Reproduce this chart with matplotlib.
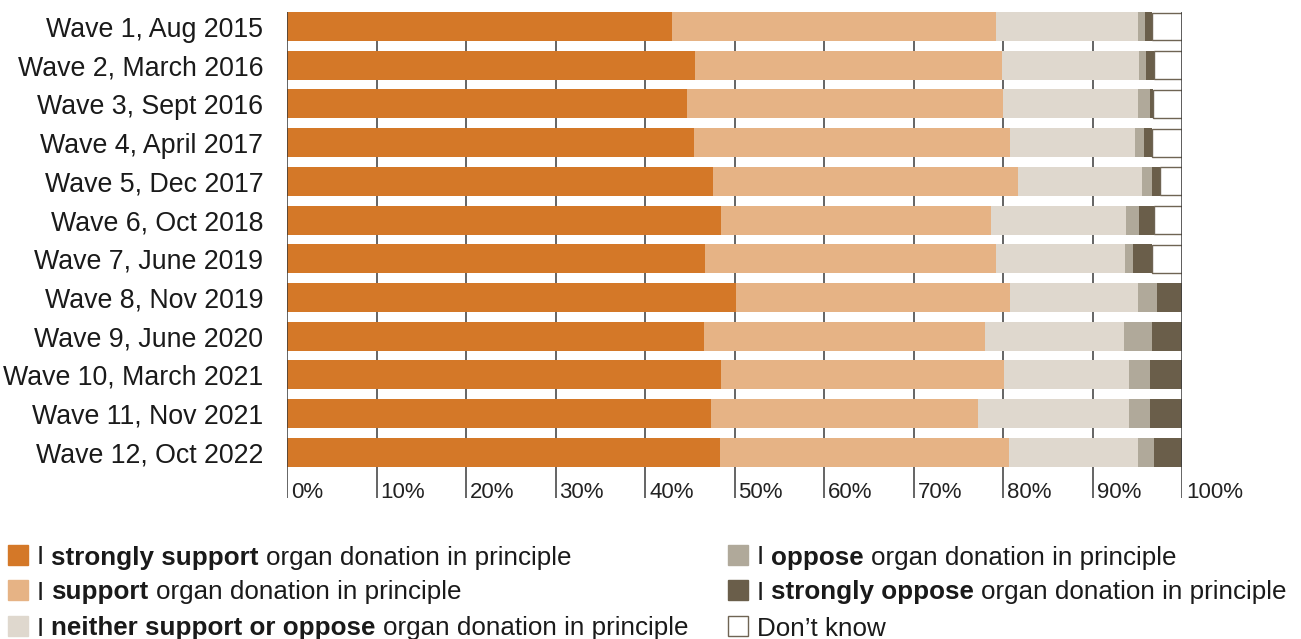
import matplotlib
matplotlib.use('Agg')
import matplotlib.pyplot as plt
import matplotlib.transforms as mtrans
from matplotlib.patches import Rectangle

plt.rcParams['font.family'] = ['Liberation Sans', 'DejaVu Sans']

waves = ['Wave 1, Aug 2015', 'Wave 2, March 2016', 'Wave 3, Sept 2016',
         'Wave 4, April 2017', 'Wave 5, Dec 2017', 'Wave 6, Oct 2018',
         'Wave 7, June 2019', 'Wave 8, Nov 2019', 'Wave 9, June 2020',
         'Wave 10, March 2021', 'Wave 11, Nov 2021', 'Wave 12, Oct 2022']

strongly_support = [43.0, 45.6, 44.7, 45.5, 47.6, 48.5, 46.7, 50.2, 46.6, 48.5, 47.4, 48.4]
support = [36.2, 34.3, 35.3, 35.3, 34.1, 30.2, 32.5, 30.6, 31.4, 31.6, 29.8, 32.3]
neither = [15.9, 15.3, 15.1, 13.9, 13.8, 15.0, 14.4, 14.3, 15.5, 14.0, 16.9, 14.4]
oppose = [0.8, 0.8, 1.3, 1.1, 1.1, 1.5, 0.9, 2.1, 3.1, 2.3, 2.3, 1.8]
strongly_oppose = [0.7, 0.9, 0.4, 0.8, 0.9, 1.7, 2.1, 2.8, 3.4, 3.6, 3.6, 3.1]
dont_know = [3.4, 3.1, 3.2, 3.4, 2.5, 3.1, 3.4, 0, 0, 0, 0, 0]

ticks = [0, 10, 20, 30, 40, 50, 60, 70, 80, 90, 100]

# (series, face, edge, legend pieces as (text, bold))
SERIES = [
    (strongly_support, '#D47828', None, [('I', False), ('strongly support', True), ('organ donation in principle', False)]),
    (support, '#E6B385', None, [('I', False), ('support', True), ('organ donation in principle', False)]),
    (neither, '#DFD8CE', None, [('I', False), ('neither support or oppose', True), ('organ donation in principle', False)]),
    (oppose, '#B0A99A', None, [('I', False), ('oppose', True), ('organ donation in principle', False)]),
    (strongly_oppose, '#6A5E4A', None, [('I', False), ('strongly oppose', True), ('organ donation in principle', False)]),
    (dont_know, 'white', '#6F6453', [('Don\u2019t know', False)]),
]

W, H = 1301, 639
fig = plt.figure(figsize=(W / 100, H / 100), dpi=100)
ax = fig.add_axes([287 / W, 1 - 498 / H, (1182 - 287) / W, (498 - 12) / H])

rows = list(range(len(waves)))
left = [0.0] * len(waves)
for vals, face, edge, _ in SERIES:
    if edge is None:
        ax.barh(rows, vals, left=left, height=0.75, color=face, linewidth=0, zorder=2)
    else:
        for r, v, l in zip(rows, vals, left):
            if v > 0:
                ax.barh(r, v, left=l, height=0.72, color=face, edgecolor=edge,
                        linewidth=1.0, zorder=2)
    left = [a + b for a, b in zip(left, vals)]

# gridlines sit behind the bars, edges on top; labels just right of each line
offset = mtrans.ScaledTranslation(4 / 100, 0, fig.dpi_scale_trans)
for t in ticks:
    z = 3 if t in (0, 100) else 0
    ax.axvline(t, color='#3a3a3a', linewidth=1.1, zorder=z)
    ax.text(t, 12.18, f'{t}%', transform=ax.transData + offset, fontsize=16,
            color='#222222', ha='left', va='baseline')

ax.set_xlim(0, 100)
ax.set_ylim(12.18, -0.375)
ax.set_xticks([])
ax.set_yticks(rows)
ax.set_yticklabels(waves, fontsize=19.3, color='#1a1a1a')
ax.tick_params(axis='y', length=0, pad=17)
for s in ax.spines.values():
    s.set_visible(False)

# legend, drawn piece by piece so parts can be bold
renderer = fig.canvas.get_renderer()
LEG_FS = 18.7
space_px = 0.278 * LEG_FS * 100 / 72
positions = [(8, 555), (8, 590), (8, 626), (728, 555), (728, 590), (728, 626)]
for (vals, face, edge, pieces), (x0, yc) in zip(SERIES, positions):
    sq = 20
    fig.patches.append(Rectangle((x0 / W, 1 - (yc + sq / 2) / H), sq / W, sq / H,
                                 transform=fig.transFigure, facecolor=face,
                                 edgecolor=edge if edge else face, linewidth=1.0))
    x = x0 + 29
    for text, bold in pieces:
        t = fig.text(x / W, 1 - yc / H, text, fontsize=LEG_FS,
                     fontweight='bold' if bold else 'normal',
                     color='#1a1a1a', ha='left', va='center_baseline')
        bb = t.get_window_extent(renderer)
        x += bb.width + space_px

fig.savefig('out.png', dpi=100)
